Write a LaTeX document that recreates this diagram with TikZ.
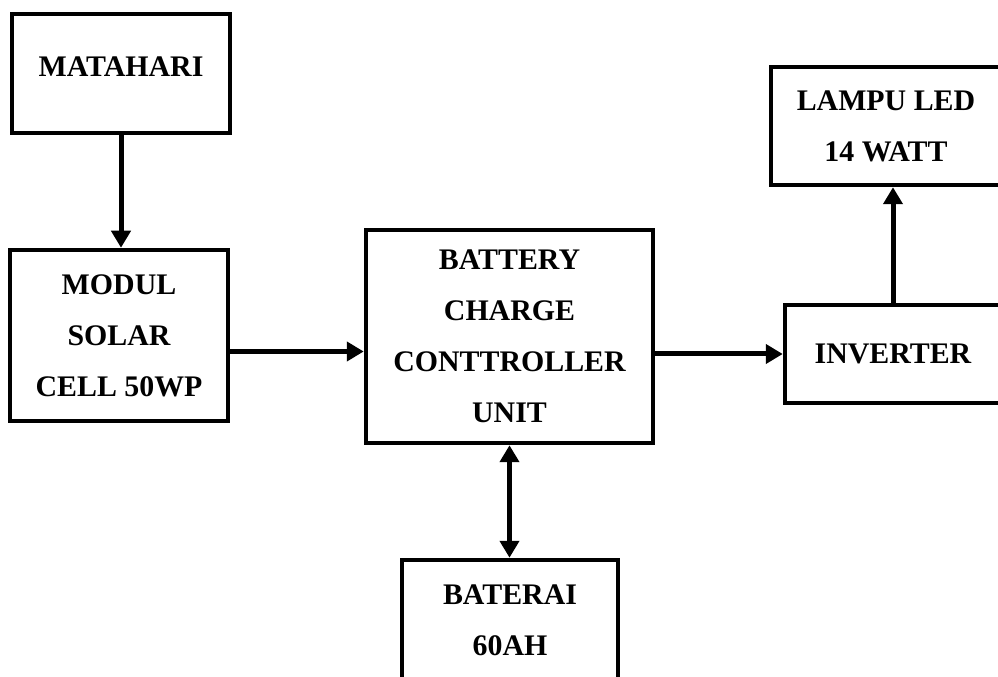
\documentclass[tikz,border=0pt]{standalone}
\usepackage{fontspec}
\setmainfont{Liberation Serif}
\usetikzlibrary{arrows.meta, positioning, calc}

\begin{document}
\begin{tikzpicture}[font=\bfseries\fontsize{17}{29}\selectfont,
  blok/.style={draw, line width=0.09cm, align=center, inner sep=0pt},
  panah/.style={line width=0.1cm, -{Triangle[length=0.34cm, width=0.38cm]}}]
\useasboundingbox (0,0) rectangle (19.96,-13.54);
\node[blok, minimum width=4.36cm, minimum height=2.38cm, text depth=0.26cm] (matahari) at (2.42,-1.47) {MATAHARI};
\node[blok, minimum width=4.36cm, minimum height=3.42cm] (modul) at (2.38,-6.71) {MODUL\\SOLAR\\CELL 50WP};
\node[blok, minimum width=5.74cm, minimum height=4.26cm] (bcu) at (10.19,-6.73) {BATTERY\\CHARGE\\CONTTROLLER\\UNIT};
\node[blok, minimum width=4.32cm, minimum height=1.96cm] (inverter) at (17.86,-7.08) {INVERTER};
\node[blok, minimum width=4.60cm, minimum height=2.36cm] (lampu) at (17.72,-2.52) {LAMPU LED\\14 WATT};
\node[blok, minimum width=4.32cm, minimum height=2.40cm] (baterai) at (10.20,-12.40) {BATERAI\\60AH};
\draw[panah] (matahari.south) -- (matahari.south |- modul.north);
\draw[panah] ([yshift=-0.32cm]modul.east) -- ([yshift=-0.32cm]modul.east -| bcu.west);
\draw[panah] (inverter.west -| bcu.east) -- (inverter.west);
\draw[panah] (inverter.north) -- (inverter.north |- lampu.south);
\draw[panah, {Triangle[length=0.34cm, width=0.38cm]}-{Triangle[length=0.34cm, width=0.38cm]}] (bcu.south) -- (bcu.south |- baterai.north);
\end{tikzpicture}
\end{document}
